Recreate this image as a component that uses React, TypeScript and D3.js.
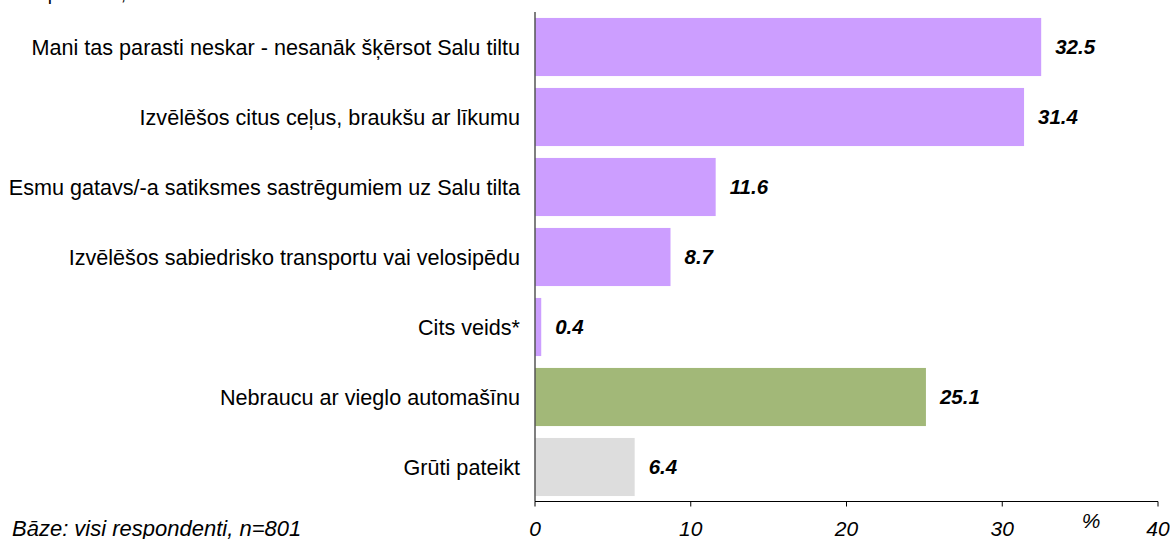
import React from "react";
import * as d3 from "d3";

const categories = [
  "Mani tas parasti neskar - nesanāk šķērsot Salu tiltu",
  "Izvēlēšos citus ceļus, braukšu ar līkumu",
  "Esmu gatavs/-a satiksmes sastrēgumiem uz Salu tilta",
  "Izvēlēšos sabiedrisko transportu vai velosipēdu",
  "Cits veids*",
  "Nebraucu ar vieglo automašīnu",
  "Grūti pateikt",
];
const values = [32.5, 31.4, 11.6, 8.7, 0.4, 25.1, 6.4];
const colors = ["#CC9EFF", "#CC9EFF", "#CC9EFF", "#CC9EFF", "#CC9EFF", "#A2B878", "#DDDDDD"];
const xTicks = [0, 10, 20, 30, 40];

const W = 1170;
const H = 539;

export default function App() {
  const x = d3.scaleLinear().domain([0, 40]).range([535, 1158]);
  const y = d3.scaleBand<string>().domain(categories).range([12, 502]).paddingInner(0.17).paddingOuter(0.085);
  const font = "'Liberation Sans', Arial, sans-serif";
  const axisY = 501.5;
  return (
    <svg width={W} height={H} style={{ position: "absolute", left: 0, top: 0 }} fontFamily={font}>
      <text x={14} y={-0.5} fontSize={19} fill="#000">Respondenti, kuri brauc ar automašīnu</text>
      {categories.map((c, i) => (
        <g key={c}>
          <rect x={x(0)} y={y(c)!} width={x(values[i]) - x(0)} height={y.bandwidth()} fill={colors[i]} />
          <text x={520} y={y(c)! + y.bandwidth() / 2} dy="0.35em" textAnchor="end" fontSize={21.6} fill="#000">{c}</text>
          <text x={x(values[i]) + 14} y={y(c)! + y.bandwidth() / 2} dy="0.35em" fontSize={20.5} fontWeight="bold" fontStyle="italic" fill="#000">{values[i].toFixed(1)}</text>
        </g>
      ))}
      <line x1={535} x2={535} y1={12} y2={axisY} stroke="#555" strokeWidth={1.5} />
      <line x1={535} x2={1158} y1={axisY} y2={axisY} stroke="#000" strokeWidth={1} />
      {xTicks.map((t) => (
        <g key={t}>
          <line x1={x(t)} x2={x(t)} y1={axisY} y2={axisY + 5} stroke="#000" />
          <text x={x(t)} y={536} textAnchor="middle" fontSize={21} fontStyle="italic" fill="#000">{t}</text>
        </g>
      ))}
      <text x={1091} y={528} textAnchor="middle" fontSize={21} fontStyle="italic" fill="#000">%</text>
      <text x={12} y={536} fontSize={22} fontStyle="italic" fill="#000">Bāze: visi respondenti, n=801</text>
    </svg>
  );
}
